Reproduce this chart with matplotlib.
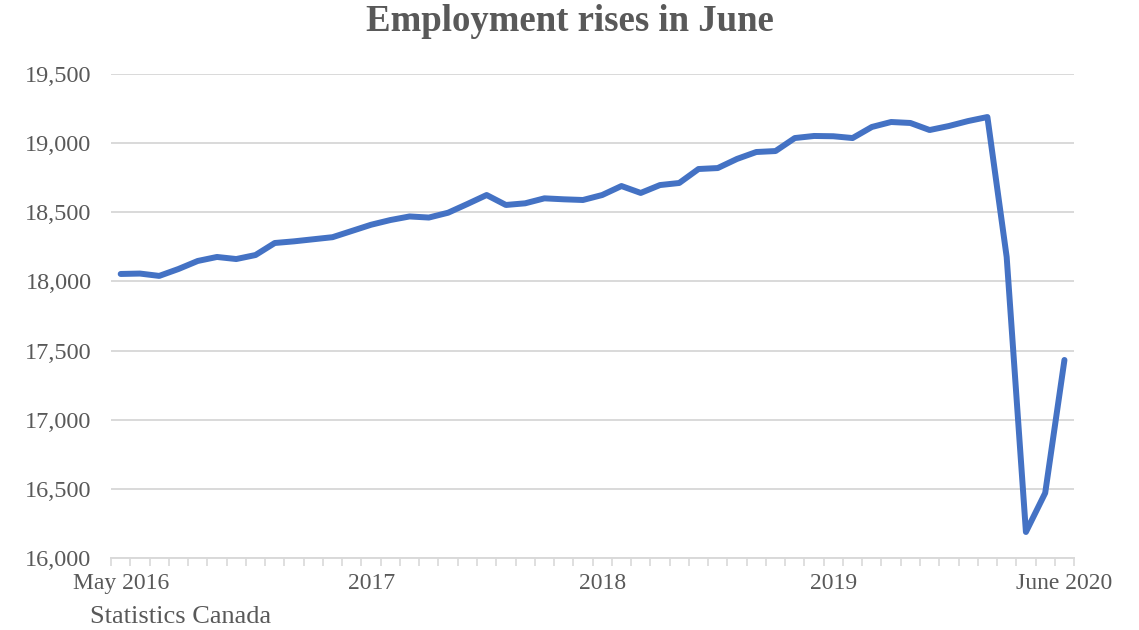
import matplotlib.pyplot as plt
import numpy as np

# Employment, thousands, May 2016 - June 2020 (monthly)
employment = [
    18054, 18057, 18040, 18090, 18148, 18177, 18162, 18191,  # 2016
    18278, 18290, 18305, 18320, 18365, 18410, 18444, 18470,
    18462, 18497, 18560, 18625,  # 2017
    18553, 18565, 18601, 18594, 18589, 18625, 18690, 18640,
    18697, 18712, 18813, 18820,  # 2018
    18886, 18936, 18943, 19037, 19052, 19050, 19037, 19117,
    19153, 19146, 19095, 19124,  # 2019
    19160, 19189, 18177, 16188, 16470, 17432,  # 2020
]
label_pos = [0, 13, 25, 37, 49]
label_text = ["May 2016", "2017", "2018", "2019", "June 2020"]
yticks = [16000, 16500, 17000, 17500, 18000, 18500, 19000, 19500]

grey = "#595959"
plt.rcParams["font.family"] = ["Liberation Serif", "DejaVu Serif"]

fig = plt.figure(figsize=(11.39, 6.30), dpi=100)
ax = fig.add_axes([0.0975, 0.1143, 0.8455, 0.7682])

x = np.arange(len(employment))
ax.plot(x, employment, color="#4472C4", linewidth=4.3, solid_joinstyle="round",
        solid_capstyle="round", zorder=3)

ax.set_xlim(-0.5, len(employment) - 0.5)
ax.set_ylim(16000, 19500)
ax.set_yticks(yticks)
ax.set_yticklabels([f"{v:,}" for v in yticks])
ax.yaxis.grid(True, color="#d9d9d9", linewidth=1.4)
ax.set_axisbelow(True)

ax.set_xticks(label_pos)
ax.set_xticklabels(label_text)
ax.set_xticks(np.arange(-0.5, len(employment)), minor=True)
ax.tick_params(axis="x", which="major", length=0, pad=11, labelsize=17, labelcolor=grey)
ax.tick_params(axis="x", which="minor", length=6, width=1.2, color="#d9d9d9", direction="out")
ax.tick_params(axis="y", length=0, pad=14, labelsize=17.5, labelcolor=grey)

for side in ["top", "right", "left"]:
    ax.spines[side].set_visible(False)
ax.spines["bottom"].set_color("#d9d9d9")
ax.spines["bottom"].set_linewidth(1.4)

fig.text(0.5, 0.966, "Employment rises in June", ha="center", va="center",
         fontsize=26.5, fontweight="bold", color=grey)
fig.text(0.079, 0.02, "Statistics Canada", ha="left", va="center",
         fontsize=19, color=grey)

fig.savefig("out.png", dpi=100)
